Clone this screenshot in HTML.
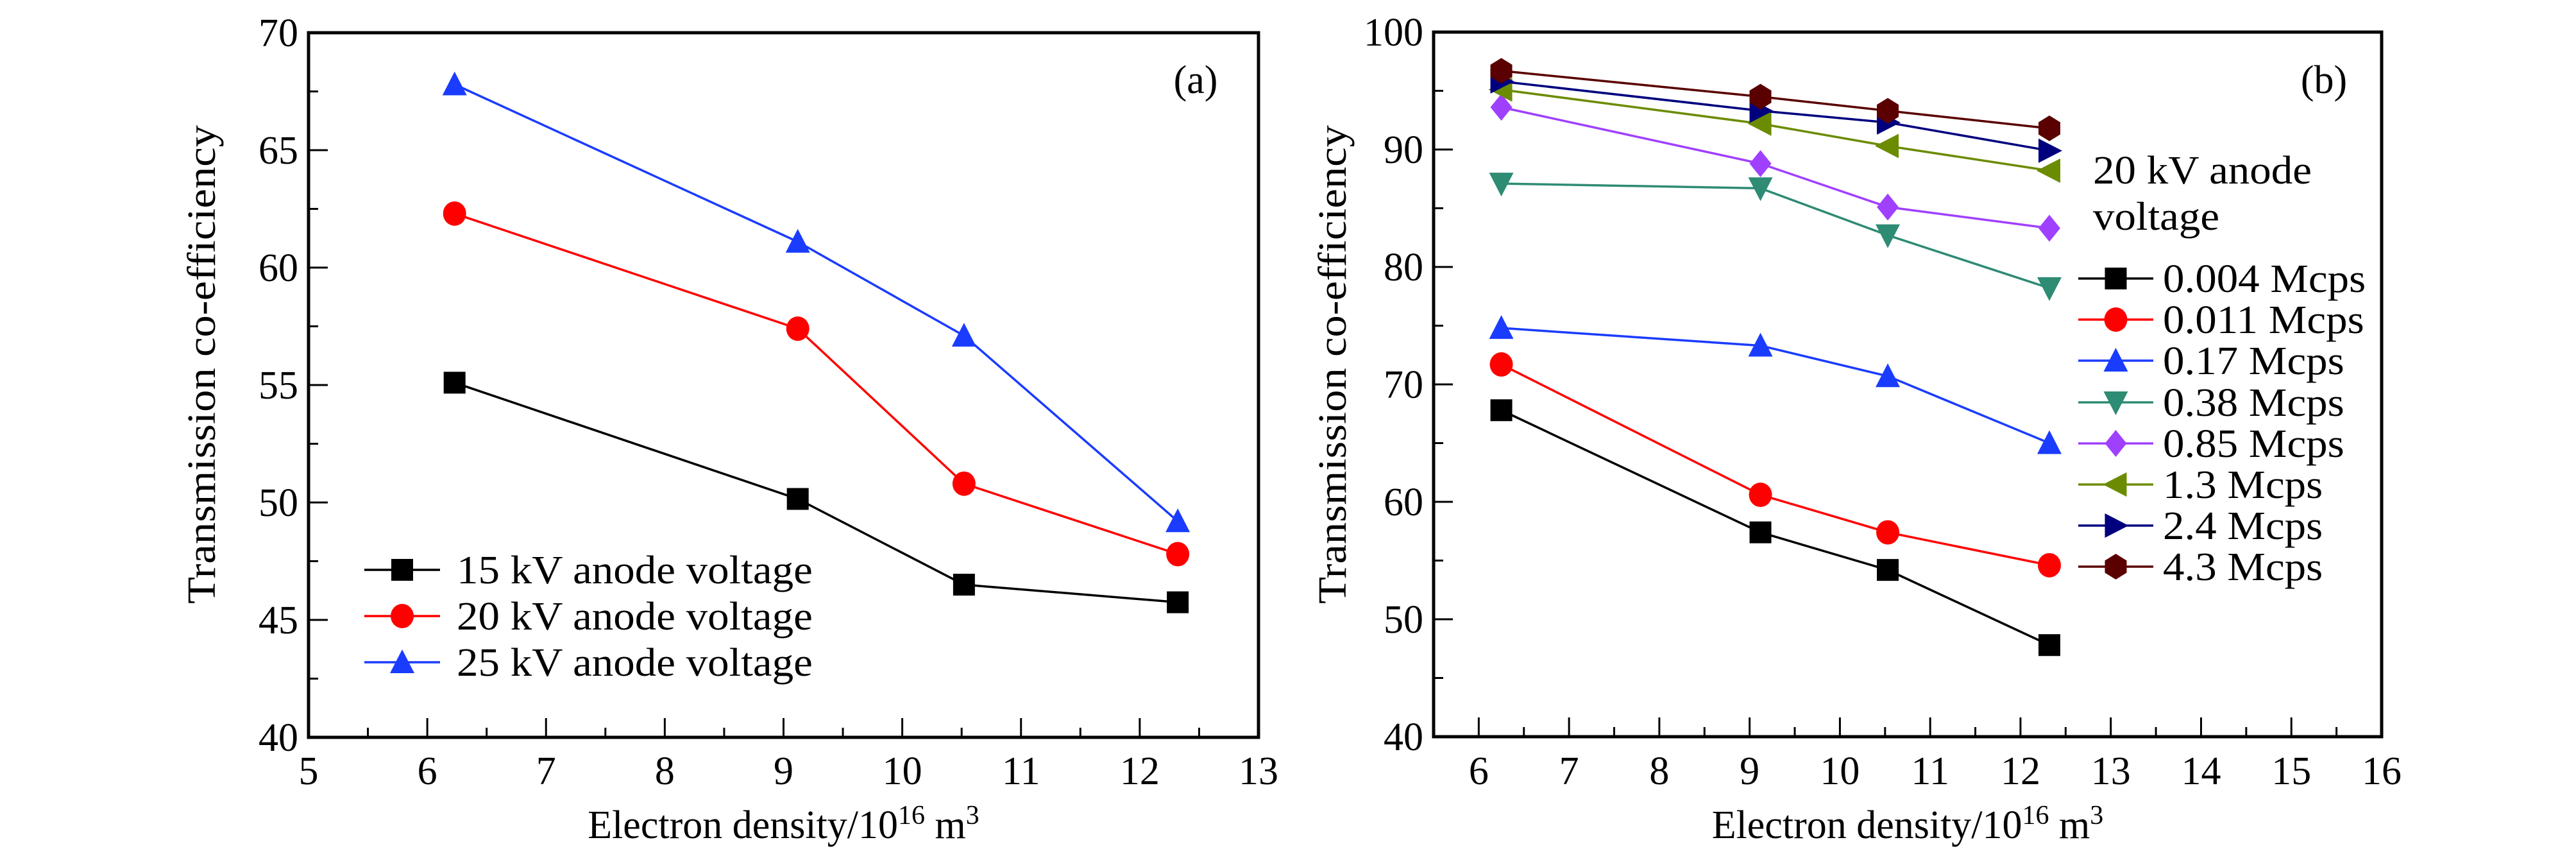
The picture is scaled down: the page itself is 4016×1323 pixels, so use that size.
<!DOCTYPE html>
<html><head><meta charset="utf-8"><style>
body{margin:0;background:#fff}
svg{display:block}
svg text{font-family:"Liberation Serif",serif}
</style></head><body>
<svg id="chart" width="4016" height="1323" viewBox="0 0 4016 1323" xmlns="http://www.w3.org/2000/svg" font-family="Liberation Serif, serif"></svg>
<script>
const xA = [6.23, 9.12, 10.52, 12.32];
const seriesANames = ["15 kV anode voltage","20 kV anode voltage","25 kV anode voltage"];
const a15 = [55.1, 50.15, 46.5, 45.75];
const a20 = [62.3, 57.4, 50.8, 47.8];
const a25 = [67.8, 61.1, 57.1, 49.2];
const xB = [6.25, 9.12, 10.53, 12.32];
const seriesBNames = ["0.004 Mcps","0.011 Mcps","0.17 Mcps","0.38 Mcps","0.85 Mcps","1.3 Mcps","2.4 Mcps","4.3 Mcps"];
const b0004 = [67.8, 57.4, 54.2, 47.8];
const b0011 = [71.7, 60.6, 57.4, 54.6];
const b017 = [74.8, 73.3, 70.7, 65.0];
const b038 = [87.1, 86.7, 82.7, 78.2];
const b085 = [93.6, 88.8, 85.1, 83.3];
const b13 = [95.1, 92.2, 90.3, 88.2];
const b24 = [95.8, 93.3, 92.3, 89.9];
const b43 = [96.7, 94.5, 93.3, 91.8];
const xTicksA = [5,6,7,8,9,10,11,12,13];
const yTicksA = [40,45,50,55,60,65,70];
const xTicksB = [6,7,8,9,10,11,12,13,14,15,16];
const yTicksB = [40,50,60,70,80,90,100];

const NS="http://www.w3.org/2000/svg";
const svg=document.getElementById('chart');
const FF="Liberation Serif, serif";
const stretchList=[];
function mk(tag,attrs,parent,text){const e=document.createElementNS(NS,tag);for(const k in attrs)e.setAttribute(k,attrs[k]);if(tag==='text')e.setAttribute('font-family',FF);if(text!==undefined)e.textContent=text;(parent||svg).appendChild(e);return e;}

function marker(g,shape,cx,cy,color){
  const s=17;let e;
  if(shape==='square')e=mk('rect',{x:cx-s,y:cy-s,width:2*s,height:2*s,fill:color},g);
  else if(shape==='circle')e=mk('ellipse',{cx:cx,cy:cy,rx:s+1,ry:s+2,fill:color},g);
  else if(shape==='up')e=mk('polygon',{points:`${cx},${cy-s-3} ${cx+s+2},${cy+s} ${cx-s-2},${cy+s}`,fill:color},g);
  else if(shape==='down')e=mk('polygon',{points:`${cx},${cy+s+3} ${cx+s+2},${cy-s} ${cx-s-2},${cy-s}`,fill:color},g);
  else if(shape==='diamond')e=mk('polygon',{points:`${cx},${cy-s-4} ${cx+s},${cy} ${cx},${cy+s+4} ${cx-s},${cy}`,fill:color},g);
  else if(shape==='left')e=mk('polygon',{points:`${cx-s-3},${cy} ${cx+s},${cy-s-2} ${cx+s},${cy+s+2}`,fill:color},g);
  else if(shape==='right')e=mk('polygon',{points:`${cx+s+3},${cy} ${cx-s},${cy-s-2} ${cx-s},${cy+s+2}`,fill:color},g);
  else if(shape==='hex')e=mk('polygon',{points:`${cx},${cy-s-3} ${cx+s},${cy-s/2-1} ${cx+s},${cy+s/2+1} ${cx},${cy+s+3} ${cx-s},${cy+s/2+1} ${cx-s},${cy-s/2-1}`,fill:color},g);
  
  
  return e;
}

function panel(cfg){
  const g=mk('g',{});
  const X=v=>cfg.L+(v-cfg.x0)/(cfg.x1-cfg.x0)*(cfg.R-cfg.L);
  const Y=v=>cfg.B-(v-cfg.y0)/(cfg.y1-cfg.y0)*(cfg.B-cfg.T);
  const ax=mk('g',{},g);
  for(let v=cfg.x0;v<=cfg.x1+1e-9;v+=0.5){
    const maj=Math.abs(v-Math.round(v))<1e-9;
    mk('line',{x1:X(v),x2:X(v),y1:cfg.B,y2:cfg.B-(maj?30:15),stroke:'#000','stroke-width':3},ax);
  }
  cfg.xt.forEach(v=>{const t=mk('text',{x:X(v),y:1222,'font-size':62,'text-anchor':'middle'},ax,String(v));});
  const ay=mk('g',{},g);
  for(let v=cfg.y0;v<=cfg.y1+1e-9;v+=cfg.ym){
    const maj=cfg.yt.includes(Math.round(v*100)/100);
    mk('line',{x1:cfg.L,x2:cfg.L+(maj?30:15),y1:Y(v),y2:Y(v),stroke:'#000','stroke-width':3},ay);
  }
  cfg.yt.forEach(v=>{const t=mk('text',{x:cfg.L-16,y:Y(v)+21,'font-size':62,'text-anchor':'end'},ay,String(v));});
  mk('rect',{x:cfg.L,y:cfg.T,width:cfg.R-cfg.L,height:cfg.B-cfg.T,fill:'none',stroke:'#000','stroke-width':5,},g);
  const xt=mk('text',{x:(cfg.L+cfg.R)/2,y:1306,'font-size':62,'text-anchor':'middle',},g);
  xt.innerHTML='Electron density/10<tspan dy="-22" font-size="42">16</tspan><tspan dy="22"> m</tspan><tspan dy="-22" font-size="42">3</tspan>';
  mk('text',{x:0,y:0,'font-size':62,'text-anchor':'middle',transform:`translate(${cfg.yTitleX},568) rotate(-90)`,textLength:746,lengthAdjust:'spacingAndGlyphs',},g,'Transmission co-efficiency');
  mk('text',{x:cfg.lblX,y:145,'font-size':62,'text-anchor':'middle',},g,cfg.label);
  cfg.series.forEach(s=>{
    const sg=mk('g',{},g);
    const pts=cfg.xs.map((x,i)=>X(x)+','+Y(s.data[i])).join(' ');
    mk('polyline',{points:pts,fill:'none',stroke:s.color,'stroke-width':3.5},sg);
    cfg.xs.forEach((x,i)=>marker(sg,s.shape,X(x),Y(s.data[i]),s.color));
  });
  const lg=mk('g',{},g);
  cfg.series.forEach((s,i)=>{
    const y=cfg.legY[i];
    const e=mk('g',{},lg);
    mk('line',{x1:cfg.legX1,x2:cfg.legX2,y1:y,y2:y,stroke:s.color,'stroke-width':3.5},e);
    marker(e,s.shape,(cfg.legX1+cfg.legX2)/2,y,s.color);
    const t=mk('text',{x:cfg.legTX,y:y+21,'font-size':62},e,s.name);
    stretchList.push(t);
  });
  return g;
}

panel({name:'panel-a',L:481,R:1962,T:51,B:1149,x0:5,x1:13,y0:40,y1:70,ym:2.5,xt:xTicksA,yt:yTicksA,
  yTitleX:335,lblX:1864,label:'(a)',xs:xA,
  series:[{key:'15kv',name:seriesANames[0],data:a15,color:'#000',shape:'square'},
          {key:'20kv',name:seriesANames[1],data:a20,color:'#ff0000',shape:'circle'},
          {key:'25kv',name:seriesANames[2],data:a25,color:'#1a3cff',shape:'up'}],
  legX1:568,legX2:686,legTX:712,legY:[888,960,1032]});

panel({name:'panel-b',L:2235,R:3713,T:50,B:1148,x0:5.5,x1:16,y0:40,y1:100,ym:5,xt:xTicksB,yt:yTicksB,
  yTitleX:2098,lblX:3623,label:'(b)',xs:xB,
  series:[{key:'0004',name:seriesBNames[0],data:b0004,color:'#000',shape:'square'},
          {key:'0011',name:seriesBNames[1],data:b0011,color:'#ff0000',shape:'circle'},
          {key:'017',name:seriesBNames[2],data:b017,color:'#1a3cff',shape:'up'},
          {key:'038',name:seriesBNames[3],data:b038,color:'#2e8b74',shape:'down'},
          {key:'085',name:seriesBNames[4],data:b085,color:'#a040ff',shape:'diamond'},
          {key:'13',name:seriesBNames[5],data:b13,color:'#6b8c00',shape:'left'},
          {key:'24',name:seriesBNames[6],data:b24,color:'#00007f',shape:'right'},
          {key:'43',name:seriesBNames[7],data:b43,color:'#5a0000',shape:'hex'}],
  legX1:3240,legX2:3357,legTX:3372,legY:[434,498,562,627,691,755,819,883]});

const lt1=mk('text',{x:3263,y:286,'font-size':62,},svg,'20 kV anode');
const lt2=mk('text',{x:3263,y:358,'font-size':62,},svg,'voltage');
stretchList.push(lt1,lt2);
stretchList.forEach(t=>{
  const w=t.getComputedTextLength();
  if(w>0){t.setAttribute('textLength',(w*1.08).toFixed(1));t.setAttribute('lengthAdjust','spacingAndGlyphs');}
});
</script>
</body></html>
